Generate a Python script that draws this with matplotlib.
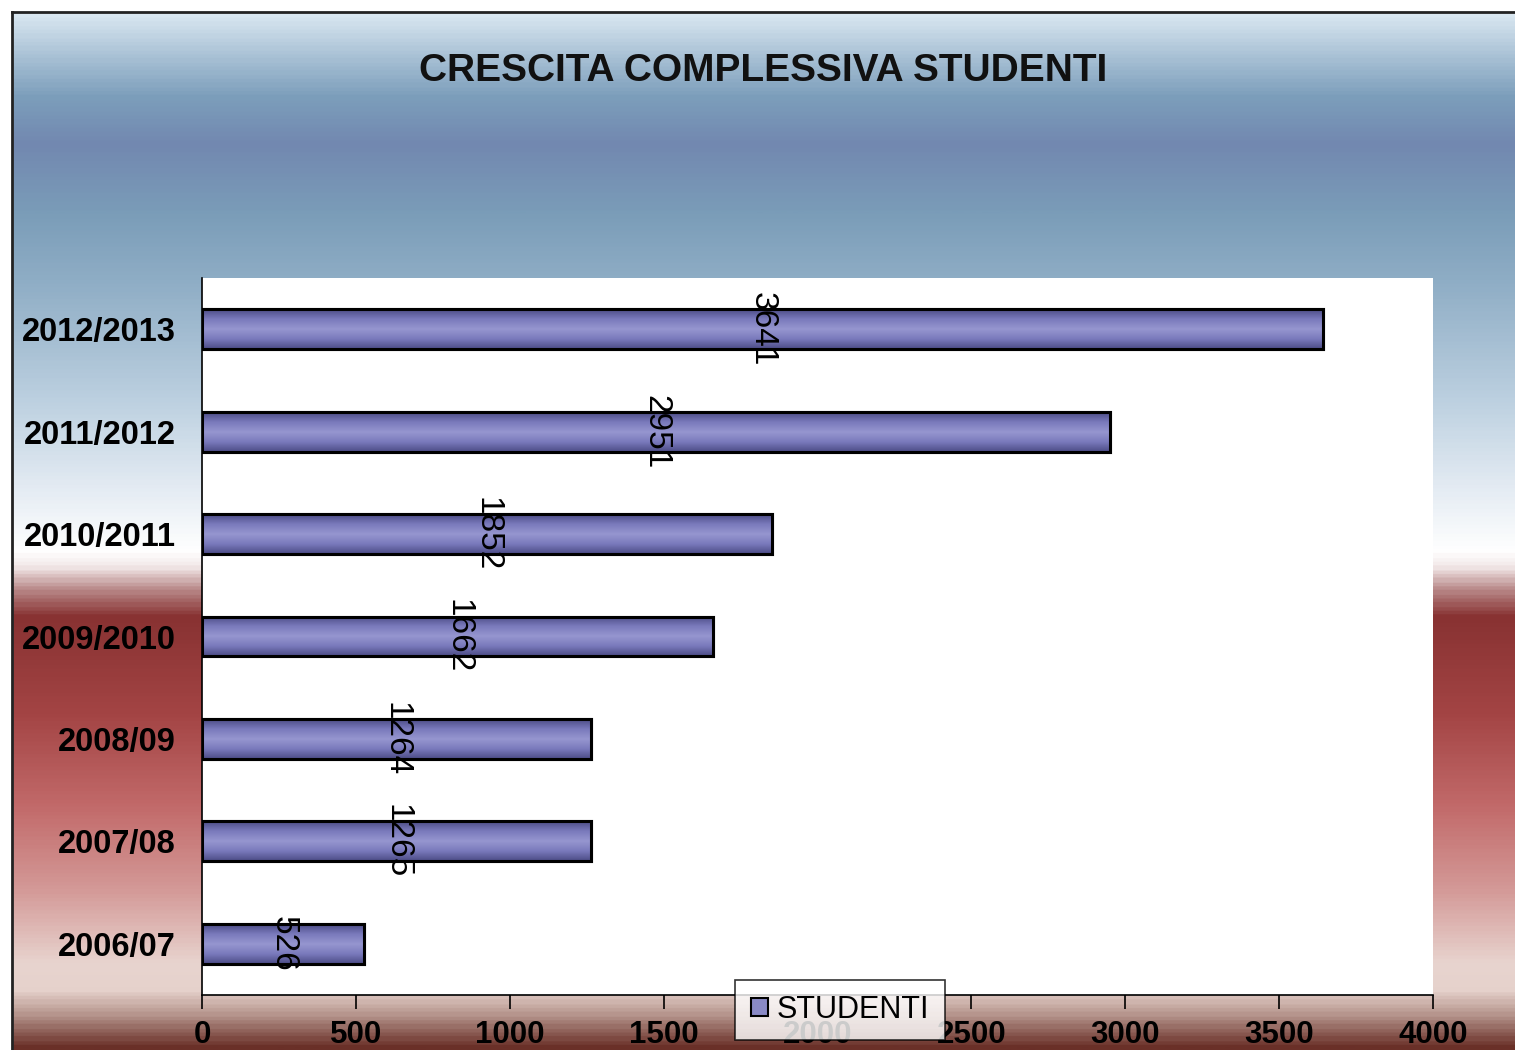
import numpy as np
import matplotlib
matplotlib.use("Agg")
import matplotlib.pyplot as plt
from matplotlib.colors import LinearSegmentedColormap
from matplotlib.lines import Line2D

plt.rcParams['font.family'] = ['Liberation Sans', 'DejaVu Sans']

# data
years = ["2006/07", "2007/08", "2008/09", "2009/2010", "2010/2011", "2011/2012", "2012/2013"]
studenti = [526, 1265, 1264, 1662, 1852, 2951, 3641]
xticks = [0, 500, 1000, 1500, 2000, 2500, 3000, 3500, 4000]

W, H = 1515, 1050
fig = plt.figure(figsize=(W / 100, H / 100), dpi=100)

# background gradient (top to bottom)
bg_stops = [
    (0.000, "#ffffff"),
    (0.012, "#d8e6f0"),
    (0.050, "#aac2d6"),
    (0.090, "#7c9ebb"),
    (0.135, "#7288b0"),
    (0.200, "#7a9cb8"),
    (0.270, "#90aec6"),
    (0.380, "#bcd0e0"),
    (0.460, "#e2eaf2"),
    (0.525, "#ffffff"),
    (0.540, "#f2e8e8"),
    (0.562, "#b88888"),
    (0.588, "#883232"),
    (0.680, "#a34444"),
    (0.770, "#c26a6a"),
    (0.850, "#d49a98"),
    (0.920, "#e8d4cf"),
    (0.945, "#e6d2cc"),
    (0.968, "#b89890"),
    (1.000, "#6a3028"),
]
bg_cmap = LinearSegmentedColormap.from_list("bg", bg_stops)
bg = fig.add_axes([0, 0, 1, 1], zorder=-2)
bg.imshow(np.linspace(0, 1, 600).reshape(-1, 1), cmap=bg_cmap, aspect="auto",
          extent=[0, 1, 0, 1], origin="upper")
bg.set_xlim(0, 1)
bg.set_ylim(0, 1)
bg.axis("off")

# white frame outside the chart area (top strip and left strip)
bg.add_patch(plt.Rectangle((0, 1 - 12 / H), 1, 12 / H, color="white", zorder=3))
bg.add_patch(plt.Rectangle((0, 0), 12 / W, 1, color="white", zorder=3))
bg.add_line(Line2D([12 / W, 1], [1 - 12 / H, 1 - 12 / H], color="#222222", lw=2, zorder=4))
bg.add_line(Line2D([12 / W, 12 / W], [0, 1 - 12 / H], color="#222222", lw=2, zorder=4))

fig.text(763 / W, 1 - 71 / H, "CRESCITA COMPLESSIVA STUDENTI", ha="center", va="center",
         fontsize=28, fontweight="bold", color="#111111")

# main axes
left, right, top, bottom = 202, 1433, 278, 995
ax = fig.add_axes([left / W, 1 - bottom / H, (right - left) / W, (bottom - top) / H])
ax.set_facecolor("white")

ypos = np.arange(len(years))
bars = ax.barh(ypos, studenti, height=0.39, color="#8a8ac6", edgecolor="black",
               linewidth=2.2, zorder=3)

bar_cmap = LinearSegmentedColormap.from_list(
    "bar", [(0, "#4c4c86"), (0.25, "#7a7abc"), (0.5, "#9696d0"), (0.75, "#7a7abc"), (1, "#4c4c86")])
grad = np.linspace(0, 1, 100).reshape(-1, 1)
for p in bars.patches:
    x0, y0 = p.get_x(), p.get_y()
    w, h = p.get_width(), p.get_height()
    im = ax.imshow(grad, cmap=bar_cmap, aspect="auto", extent=[x0, x0 + w, y0, y0 + h],
                   zorder=3.5, interpolation="bilinear")
    im.set_clip_path(p)
    edge = plt.Rectangle((x0, y0), w, h, fill=False, edgecolor="black", linewidth=2.2, zorder=4)
    ax.add_patch(edge)

for i, v in enumerate(studenti):
    ax.text(v / 2, i, str(v), rotation=270, ha="center", va="center",
            fontsize=24, color="black", zorder=5)

ax.set_xlim(0, 4000)
ax.set_ylim(-0.5, len(years) - 0.5)
ax.set_xticks(xticks)
ax.set_xticklabels([str(t) for t in xticks], fontsize=22.5, fontweight="bold")
ax.set_yticks(ypos)
ax.set_yticklabels(years, fontsize=23.5, fontweight="bold")
ax.tick_params(axis="x", direction="out", length=10, width=1.2, pad=8)
ax.tick_params(axis="y", length=0, pad=19)
for s in ["top", "right"]:
    ax.spines[s].set_visible(False)
ax.spines["left"].set_linewidth(1.2)
ax.spines["bottom"].set_linewidth(1.2)

leg = fig.legend([plt.Rectangle((0, 0), 1, 1, facecolor="#8a8ac6", edgecolor="black", lw=1.5)],
                 ["STUDENTI"], loc="center", bbox_to_anchor=(840 / W, 1 - 1010 / H),
                 fontsize=22, frameon=True, fancybox=False, edgecolor="black",
                 handlelength=0.55, handleheight=0.55, handletextpad=0.3, borderpad=0.5,
                 borderaxespad=0)
leg.get_frame().set_linewidth(1.2)
leg.set_zorder(10)

fig.savefig("out.png", dpi=100)
